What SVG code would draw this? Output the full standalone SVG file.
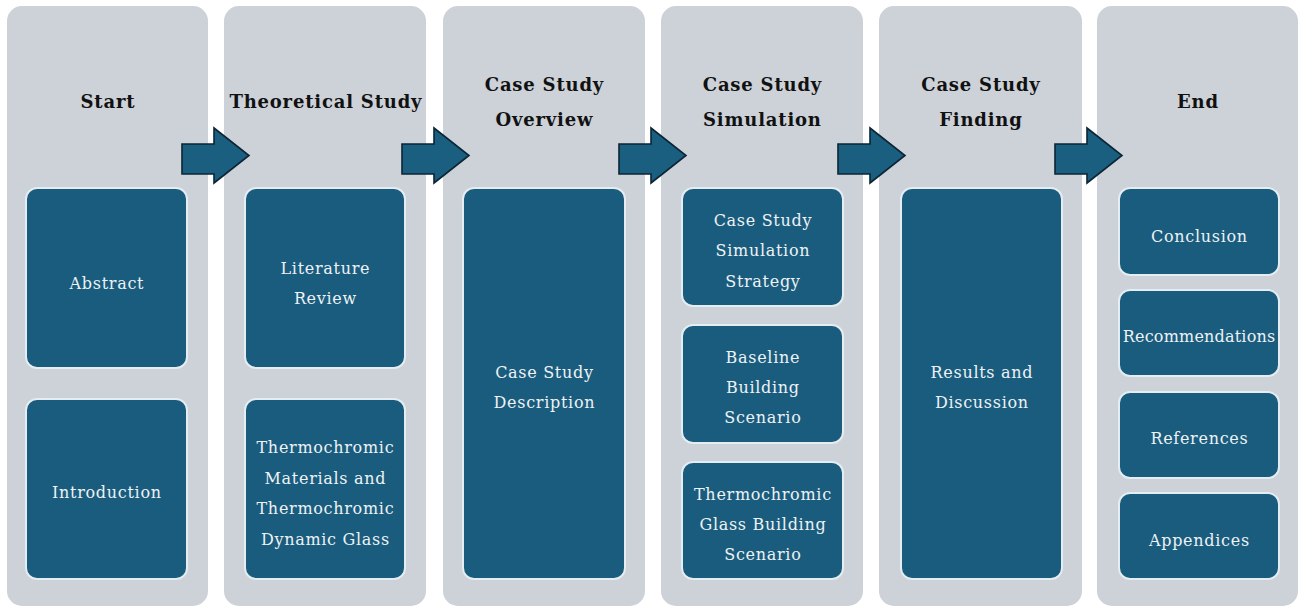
<svg xmlns="http://www.w3.org/2000/svg" width="1301" height="608" viewBox="0 0 1301 608">
  <style>
    .col { fill: #cdd1d8; }
    .box { fill: #195c7e; stroke: #e4edf2; stroke-width: 2; }
    .title { font-family: "DejaVu Serif", "Liberation Serif", serif; font-weight: bold; font-size: 18px; letter-spacing: 0.8px; fill: #111; text-anchor: middle; }
    .label { font-family: "DejaVu Serif", "Liberation Serif", serif; font-size: 16px; letter-spacing: 0.7px; fill: #eef2f4; text-anchor: middle; }
    .arrow { fill: #1a5e80; stroke: #0b2535; stroke-width: 1.6; stroke-linejoin: miter; }
  </style>
  <defs>
    <path id="arrowShape" d="M0,144 H32 V128 L67,155.5 L32,183 V174 H0 Z"/>
  </defs>

  <rect width="1301" height="608" fill="#ffffff"/>

  <!-- Stage: Start -->
  <g id="stage-start">
    <rect class="col" x="7" y="6" width="201" height="600" rx="15"/>
    <text class="title" x="107.9" y="108">Start</text>
    <g id="node-abstract">
      <rect class="box" x="26" y="188" width="161" height="180" rx="11"/>
      <text class="label" x="106.9" y="289">Abstract</text>
    </g>
    <g id="node-introduction">
      <rect class="box" x="26" y="399" width="161" height="180" rx="11"/>
      <text class="label" x="106.9" y="498">Introduction</text>
    </g>
  </g>

  <!-- Stage: Theoretical Study -->
  <g id="stage-theoretical">
    <rect class="col" x="224" y="6" width="202" height="600" rx="15"/>
    <text class="title" x="325.9" y="108">Theoretical Study</text>
    <g id="node-literature">
      <rect class="box" x="245" y="188" width="160" height="180" rx="11"/>
      <text class="label" x="325.4" y="274">Literature</text>
      <text class="label" x="325.4" y="304">Review</text>
    </g>
    <g id="node-thermochromic-materials">
      <rect class="box" x="245" y="399" width="160" height="180" rx="11"/>
      <text class="label" x="325.4" y="453">Thermochromic</text>
      <text class="label" x="325.4" y="483.5">Materials and</text>
      <text class="label" x="325.4" y="514">Thermochromic</text>
      <text class="label" x="325.4" y="544.5">Dynamic Glass</text>
    </g>
  </g>

  <!-- Stage: Case Study Overview -->
  <g id="stage-overview">
    <rect class="col" x="443" y="6" width="202" height="600" rx="15"/>
    <text class="title" x="544.4" y="91">Case Study</text>
    <text class="title" x="544.4" y="126">Overview</text>
    <g id="node-description">
      <rect class="box" x="463" y="188" width="162" height="391" rx="11"/>
      <text class="label" x="544.4" y="378">Case Study</text>
      <text class="label" x="544.4" y="408">Description</text>
    </g>
  </g>

  <!-- Stage: Case Study Simulation -->
  <g id="stage-simulation">
    <rect class="col" x="661" y="6" width="202" height="600" rx="15"/>
    <text class="title" x="762.4" y="91">Case Study</text>
    <text class="title" x="762.4" y="126">Simulation</text>
    <g id="node-strategy">
      <rect class="box" x="682" y="188" width="161" height="118" rx="11"/>
      <text class="label" x="762.9" y="226">Case Study</text>
      <text class="label" x="762.9" y="256">Simulation</text>
      <text class="label" x="762.9" y="287">Strategy</text>
    </g>
    <g id="node-baseline">
      <rect class="box" x="682" y="325" width="161" height="118" rx="11"/>
      <text class="label" x="762.9" y="363">Baseline</text>
      <text class="label" x="762.9" y="393">Building</text>
      <text class="label" x="762.9" y="423">Scenario</text>
    </g>
    <g id="node-glass">
      <rect class="box" x="682" y="462" width="161" height="117" rx="11"/>
      <text class="label" x="762.9" y="500">Thermochromic</text>
      <text class="label" x="762.9" y="530">Glass Building</text>
      <text class="label" x="762.9" y="560">Scenario</text>
    </g>
  </g>

  <!-- Stage: Case Study Finding -->
  <g id="stage-finding">
    <rect class="col" x="879" y="6" width="203" height="600" rx="15"/>
    <text class="title" x="980.9" y="91">Case Study</text>
    <text class="title" x="980.9" y="126">Finding</text>
    <g id="node-results">
      <rect class="box" x="901" y="188" width="161" height="391" rx="11"/>
      <text class="label" x="981.9" y="378">Results and</text>
      <text class="label" x="981.9" y="408">Discussion</text>
    </g>
  </g>

  <!-- Stage: End -->
  <g id="stage-end">
    <rect class="col" x="1097" y="6" width="201" height="600" rx="15"/>
    <text class="title" x="1197.9" y="108">End</text>
    <g id="node-conclusion">
      <rect class="box" x="1119" y="188" width="160" height="87" rx="11"/>
      <text class="label" x="1199.4" y="242">Conclusion</text>
    </g>
    <g id="node-recommendations">
      <rect class="box" x="1119" y="290" width="160" height="86" rx="11"/>
      <text class="label" x="1199.1" y="342" style="letter-spacing:0.2px">Recommendations</text>
    </g>
    <g id="node-references">
      <rect class="box" x="1119" y="392" width="160" height="86" rx="11"/>
      <text class="label" x="1199.4" y="444">References</text>
    </g>
    <g id="node-appendices">
      <rect class="box" x="1119" y="493" width="160" height="86" rx="11"/>
      <text class="label" x="1199.4" y="546">Appendices</text>
    </g>
  </g>

  <!-- Block arrows between stages -->
  <g id="connectors">
    <use href="#arrowShape" class="arrow" x="182"/>
    <use href="#arrowShape" class="arrow" x="402"/>
    <use href="#arrowShape" class="arrow" x="619"/>
    <use href="#arrowShape" class="arrow" x="838"/>
    <use href="#arrowShape" class="arrow" x="1055"/>
  </g>
</svg>
